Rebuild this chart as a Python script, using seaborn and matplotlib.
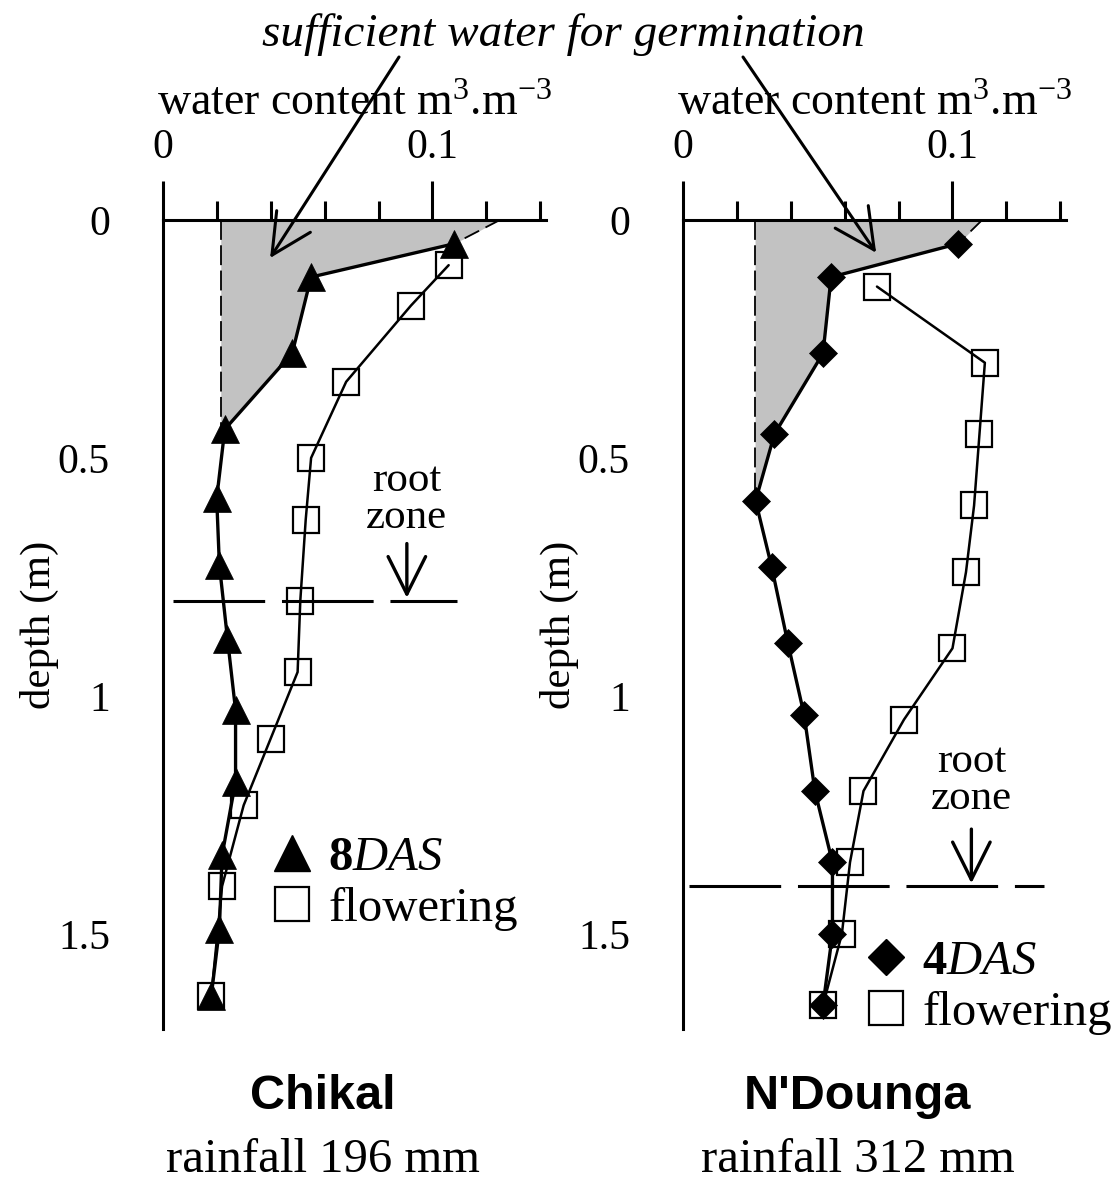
import seaborn as sns
import matplotlib.pyplot as plt
from matplotlib.lines import Line2D
from matplotlib.ticker import MultipleLocator

# soil water profiles (water content m3/m3 vs depth m)
chikal_depth_das = [0.05, 0.12, 0.28, 0.44, 0.585, 0.725, 0.88, 1.03, 1.18, 1.335, 1.49, 1.63]
chikal_wc_das = [0.108, 0.055, 0.048, 0.023, 0.020, 0.021, 0.024, 0.027, 0.027, 0.022, 0.021, 0.018]
chikal_depth_flw = [0.095, 0.18, 0.34, 0.50, 0.63, 0.80, 0.95, 1.09, 1.23, 1.40, 1.63]
chikal_wc_flw = [0.106, 0.092, 0.068, 0.055, 0.053, 0.051, 0.050, 0.040, 0.030, 0.022, 0.018]

ndounga_depth_das = [0.05, 0.12, 0.28, 0.45, 0.59, 0.73, 0.89, 1.04, 1.20, 1.35, 1.50, 1.65]
ndounga_wc_das = [0.102, 0.055, 0.052, 0.034, 0.027, 0.033, 0.039, 0.045, 0.049, 0.0555, 0.0555, 0.052]
ndounga_depth_flw = [0.14, 0.30, 0.45, 0.60, 0.74, 0.90, 1.05, 1.20, 1.35, 1.50, 1.65]
ndounga_wc_flw = [0.072, 0.112, 0.110, 0.108, 0.105, 0.100, 0.082, 0.067, 0.062, 0.059, 0.052]

# threshold for germination, value where shaded area meets the surface, root zone depth
chikal_threshold, chikal_top = 0.0215, 0.125
ndounga_threshold, ndounga_top = 0.0268, 0.111
chikal_root, ndounga_root = 0.8, 1.4

sites = ["Chikal", "N'Dounga"]
rainfall = ["rainfall 196 mm", "rainfall 312 mm"]
das_labels = [r"$\mathbf{8}\mathit{DAS}$", r"$\mathbf{4}\mathit{DAS}$"]

sns.set_theme(style="white", rc={
    "axes.edgecolor": "black", "text.color": "black", "axes.labelcolor": "black",
    "xtick.color": "black", "ytick.color": "black",
})
plt.rcParams["font.family"] = ["Liberation Serif", "DejaVu Serif"]
plt.rcParams["mathtext.fontset"] = "custom"
plt.rcParams["mathtext.rm"] = "Liberation Serif"
plt.rcParams["mathtext.it"] = "Liberation Serif:italic"
plt.rcParams["mathtext.bf"] = "Liberation Serif:bold"

fig = plt.figure(figsize=(11.2, 11.89), dpi=100)
ax1 = fig.add_axes([0.1453, 0.1346, 0.342, 0.6804])
ax2 = fig.add_axes([0.6096, 0.1346, 0.342, 0.6804])

ARROW = "->,head_length=0.9,head_width=0.45"


def panel(ax, wc_das, d_das, wc_flw, d_flw, marker, ms, thr, top, n_shade,
          root, root_x, arrow_x, root_text_y, leg_label, leg_anchor):
    # flowering profile (open squares)
    sns.lineplot(x=wc_flw, y=d_flw, orient="y", ax=ax, color="black", lw=1.8,
                 marker="s", ms=19, mfc="none", mec="black", mew=1.6,
                 legend=False, zorder=3, clip_on=False)
    # early profile (filled markers)
    sns.lineplot(x=wc_das, y=d_das, orient="y", ax=ax, color="black", lw=2.4,
                 marker=marker, ms=ms, mfc="black", mec="black", mew=0.5,
                 legend=False, zorder=4, clip_on=False)

    # shaded area: water above the germination threshold
    ys = [0] + d_das[:n_shade]
    xs = [top] + wc_das[:n_shade]
    ax.fill_betweenx(ys, thr, xs, color="#c2c2c2", lw=0, zorder=1)
    ax.plot([thr, thr], [0, d_das[n_shade - 1]], color="black", lw=1.3,
            ls=(0, (11, 3)), zorder=2)
    ax.plot([top, wc_das[0]], [0, d_das[0]], color="black", lw=1.3,
            ls=(0, (9, 4)), zorder=2)

    # root zone
    ax.plot(root_x, [root, root], color="black", lw=2.2, dashes=(30, 5.5), zorder=2)
    ax.annotate("", xy=(arrow_x, root - 0.006), xytext=(arrow_x, root - 0.12),
                arrowprops=dict(arrowstyle=ARROW, lw=2.4, color="black",
                                mutation_scale=30, shrinkA=0, shrinkB=0))
    ax.text(arrow_x, root_text_y, "root\nzone", ha="center", va="center",
            fontsize=31, linespacing=0.95)

    ax.set_xlim(0, 0.142)
    ax.set_ylim(1.7, 0)
    for s in ["bottom", "right"]:
        ax.spines[s].set_visible(False)
    for s in ["top", "left"]:
        ax.spines[s].set_linewidth(2.2)
    ax.xaxis.tick_top()
    ax.xaxis.set_label_position("top")
    ax.set_xticks([0, 0.1], ["0", "0.1"])
    ax.set_yticks([0, 0.5, 1, 1.5], ["0", "0.5", "1", "1.5"])
    ax.xaxis.set_minor_locator(MultipleLocator(0.02))
    ax.yaxis.set_minor_locator(MultipleLocator(0.1))
    ax.tick_params(which="major", direction="out", length=28, width=2.2,
                   labelsize=30, pad=10)
    ax.tick_params(which="minor", direction="out", length=14, width=2.2)
    ax.set_xlabel(r"water content m$^3$.m$^{-3}$", fontsize=33, labelpad=10)
    ax.set_ylabel("depth (m)", fontsize=31, labelpad=-1)

    handles = [
        Line2D([], [], ls="none", marker=marker, color="black", ms=ms * 1.3),
        Line2D([], [], ls="none", marker="s", ms=24, mfc="none", mec="black", mew=1.6),
    ]
    ax.legend(handles, [leg_label, "flowering"], loc="center left",
              bbox_to_anchor=leg_anchor, frameon=False, fontsize=35,
              handlelength=1.0, handletextpad=0.25, labelspacing=0.15,
              borderpad=0, borderaxespad=0)


panel(ax1, chikal_wc_das, chikal_depth_das, chikal_wc_flw, chikal_depth_flw,
      "^", 20, chikal_threshold, chikal_top, 4,
      chikal_root, [0.0037, 0.109], 0.0905, 0.587, das_labels[0], (0.274, 0.180))
panel(ax2, ndounga_wc_das, ndounga_depth_das, ndounga_wc_flw, ndounga_depth_flw,
      "D", 14, ndounga_threshold, ndounga_top, 5,
      ndounga_root, [0.0023, 0.134], 0.107, 1.178, das_labels[1], (0.467, 0.0513))

# shared annotation at the top
fig.text(0.5027, 0.9706, "sufficient water for germination", style="italic",
         fontsize=34, ha="center", va="center")
for ax, tip, start in [(ax1, (0.0398, 0.08), (399, 57)), (ax2, (0.0717, 0.069), (743, 57))]:
    ax.annotate("", xy=tip, xycoords="data",
                xytext=(start[0] / 1120, 1 - start[1] / 1189), textcoords="figure fraction",
                arrowprops=dict(arrowstyle=ARROW, lw=2.2, color="black",
                                mutation_scale=32, shrinkA=0, shrinkB=0),
                annotation_clip=False)

for i, xc in enumerate([0.288, 0.766]):
    fig.text(xc, 0.0774, sites[i], family="Liberation Sans", weight="bold",
             fontsize=35, ha="center", va="center")
    fig.text(xc, 0.0244, rainfall[i], fontsize=35, ha="center", va="center")

fig.savefig("out.png", dpi=100)
